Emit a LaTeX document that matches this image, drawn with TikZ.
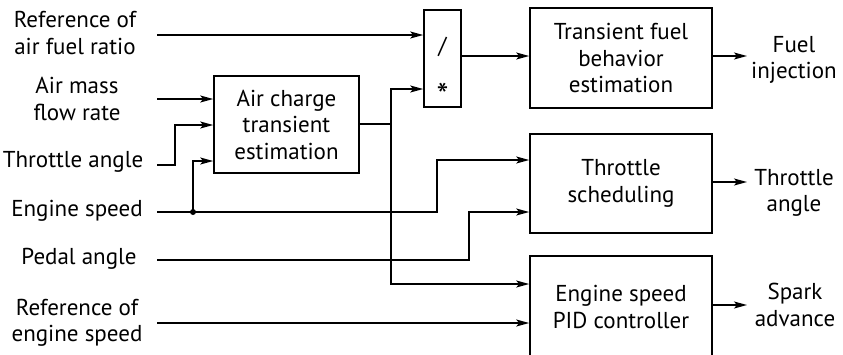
\documentclass[tikz,border=0pt]{standalone}
\usepackage{fontspec}
\setmainfont{PT Sans}
\usetikzlibrary{arrows.meta}
\begin{document}
\begin{tikzpicture}[x=1pt,y=-1pt,
  every node/.style={font=\fontsize{23}{26.5}\selectfont, align=center, inner sep=0pt},
  blk/.style={draw, line width=1.6pt, minimum width=182pt, minimum height=99pt},
  conn/.style={line width=1.6pt},
  arr/.style={conn, -{Stealth[length=13pt,width=7pt,inset=3pt]}},
  lbl/.style={}
]
\clip (0,0) rectangle (843,354);
% left labels
\node[lbl] (lafr) at (75,33) {Reference of\\air fuel ratio};
\node[lbl] (lamf) at (77,99) {Air mass\\flow rate};
\node[lbl] (lta) at (73,162) {Throttle angle};
\node[lbl] (les) at (77,211) {Engine speed};
\node[lbl] (lpa) at (79,259) {Pedal angle};
\node[lbl] (lres) at (77,323) {Reference of\\engine speed};
% boxes
\node[blk, minimum width=145pt, minimum height=97pt] (ac) at (286.5,124.5) {Air charge\\transient\\estimation};
\node[blk, minimum width=37pt, minimum height=97pt] (div) at (442.5,58.5) {};
\node (slash) at (442.5,47) {/};
\node[font=\fontsize{34}{34}\selectfont] (star) at (442.5,95) {*};
\node[blk, minimum height=100pt] (tfb) at (621,58) {Transient fuel\\behavior\\estimation};
\node[blk] (ts) at (621,183.5) {Throttle\\scheduling};
\node[blk, minimum height=102pt] (pid) at (621,307) {Engine speed\\PID controller};
% right labels
\node[lbl] (lfi) at (794,60) {Fuel\\injection};
\node[lbl] (lthr) at (794,193) {Throttle\\angle};
\node[lbl] (lsa) at (795,305) {Spark\\advance};
% start coordinates
\coordinate (s1) at (157,35);
\coordinate (s2) at (157,99);
\coordinate (s3) at (157,165);
\coordinate (s4) at (157,212);
\coordinate (s5) at (157,260);
\coordinate (s6) at (157,323);
\coordinate (dot) at (193,212);
\coordinate (jn) at (391,124);
\coordinate (o1) at (747,56);
\coordinate (o2) at (747,182);
\coordinate (o3) at (747,305);
% connectors
\draw[arr] (s1) -- (s1 -| div.west);
\draw[arr] (s2) -- (s2 -| ac.west);
\draw[arr] (s3) -- (175,165) -- (175,125) -- (ac.west |- 0,125);
\draw[conn] (s4) -- (dot);
\draw[arr] (dot) -- (193,161) -- (ac.west |- 0,161);
\draw[arr] (dot) -- (437,212) -- (437,160) -- (ts.west |- 0,160);
\fill (dot) circle (3pt);
\draw[arr] (s5) -- (469,260) -- (469,212) -- (ts.west |- 0,212);
\draw[conn] (ac.east |- jn) -- (jn);
\draw[arr] (jn) -- (391,89) -- (div.west |- 0,89);
\draw[arr] (jn) -- (391,284) -- (pid.west |- 0,284);
\draw[arr] (s6) -- (s6 -| pid.west);
\draw[arr] (div.east |- 0,56) -- (tfb.west |- 0,56);
\draw[arr] (tfb.east |- o1) -- (o1);
\draw[arr] (ts.east |- o2) -- (o2);
\draw[arr] (pid.east |- o3) -- (o3);
\end{tikzpicture}
\end{document}
